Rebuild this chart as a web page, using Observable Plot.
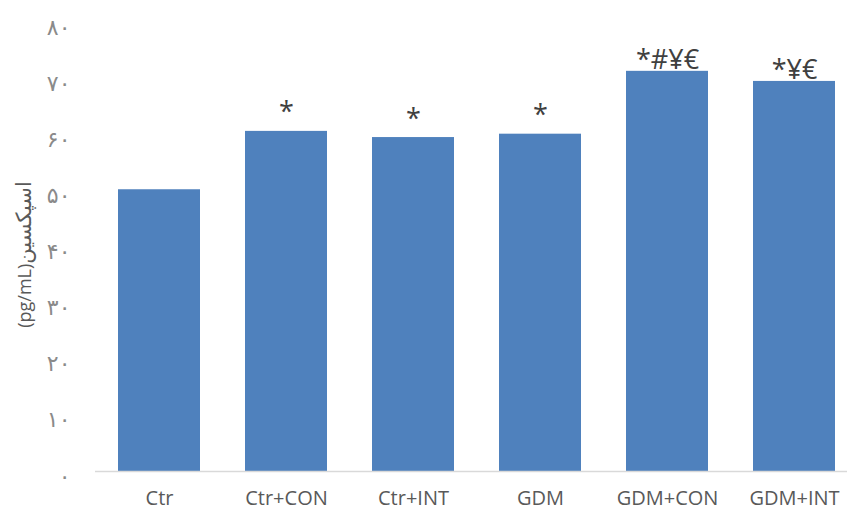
<!DOCTYPE html>
<html>
<head>
<meta charset="utf-8">
<script src="https://cdn.jsdelivr.net/npm/d3@7"></script>
<script src="https://cdn.jsdelivr.net/npm/@observablehq/plot@0.6"></script>
<style>
  html, body { margin: 0; padding: 0; background: #fff; }
  #chart svg { display: block; }
</style>
</head>
<body>
<div id="chart"></div>
<script>
const groups = ["Ctr", "Ctr+CON", "Ctr+INT", "GDM", "GDM+CON", "GDM+INT"];
const values = [50.2, 60.6, 59.5, 60.1, 71.3, 69.5];
const signs = ["", "*", "*", "*", "*#¥€", "*¥€"];
const yTicks = [0, 10, 20, 30, 40, 50, 60, 70, 80];
const yTickLabels = ["۰", "۱۰", "۲۰", "۳۰", "۴۰", "۵۰", "۶۰", "۷۰", "۸۰"];
const yLabelFa = "اسپکسین";
const yLabelUnit = "(pg/mL)";

const data = groups.map((g, i) => ({group: g, value: values[i], sign: signs[i]}));
const single = data.filter(d => d.sign.length === 1);
const multi = data.filter(d => d.sign.length > 1);

const chart = Plot.plot({
  width: 847,
  height: 512,
  marginLeft: 95,
  marginRight: -11,
  marginTop: 22,
  marginBottom: 41,
  style: {fontFamily: "'Open Sans', 'DejaVu Sans', sans-serif", background: "#fff"},
  x: {domain: groups, paddingInner: 0.355, paddingOuter: 0.1775, label: null},
  y: {domain: [0, 80], label: null},
  marks: [
    Plot.barY(data, {x: "group", y: "value", fill: "#4f81bd"}),
    Plot.ruleY([0], {stroke: "#d9d9d9", strokeWidth: 1.5}),
    Plot.text(single, {x: "group", y: "value", text: "sign", lineAnchor: "bottom", dy: -10,
      fontSize: 27, fill: "#404040"}),
    Plot.text(multi, {x: "group", y: "value", text: "sign", lineAnchor: "bottom", dy: -2,
      fontSize: 27, fill: "#404040"}),
    Plot.axisX({tickSize: 0, tickPadding: 19, color: "#595959", label: null}),
    Plot.axisY({ticks: yTicks, tickFormat: d => yTickLabels[yTicks.indexOf(d)],
      tickSize: 0, tickPadding: 25, dy: 5, color: "#8a8a8a", label: null})
  ]
});

const svg = d3.select(chart);
svg.selectAll("text")
  .filter(function() { return groups.includes(this.textContent); })
  .style("font-size", "20px");
svg.selectAll("text")
  .filter(function() { return yTickLabels.includes(this.textContent); })
  .style("font-size", "22px").style("font-family", "'DejaVu Sans', sans-serif");

const y = chart.scale("y");
const yMid = (y.apply(0) + y.apply(80)) / 2 + 8;
const lab = svg.append("text")
  .attr("transform", `translate(31,${yMid}) rotate(-90)`)
  .attr("text-anchor", "middle")
  .attr("direction", "rtl")
  .attr("fill", "#595959")
  .attr("font-family", "'Open Sans', 'DejaVu Sans', sans-serif");
lab.append("tspan").attr("font-size", 21).attr("font-family", "'DejaVu Sans', sans-serif").text(yLabelFa);
lab.append("tspan").attr("font-size", 18).text(yLabelUnit);

document.getElementById("chart").appendChild(chart);
</script>
</body>
</html>
